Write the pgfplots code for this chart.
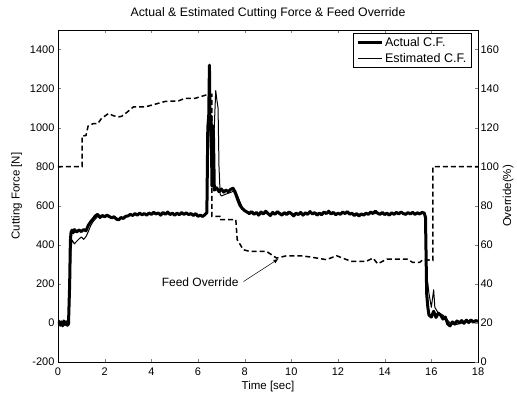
\documentclass[border=0pt]{standalone}
\usepackage{pgfplots}
\pgfplotsset{compat=1.18}
\usetikzlibrary{arrows.meta}
\usepackage{fontspec}
\setmainfont{Liberation Sans}
\begin{document}
\begin{tikzpicture}
\path[use as bounding box] (-58pt,-39pt) rectangle (459pt,362pt);
\begin{axis}[
  scale only axis, width=420pt, height=332pt,
  at={(0,0)}, anchor=south west,
  xmin=0, xmax=18, ymin=-200, ymax=1500,
  xtick={0,2,...,18}, ytick={-200,0,...,1400},
  tick align=inside, xtick pos=both, ytick pos=left,
  major tick length=3pt,
  /pgf/number format/assume math mode=true,
  /pgf/number format/1000 sep={},
  tick label style={font=\fontsize{11}{13}\selectfont},
  xticklabel style={yshift=-2.5pt},
  label style={font=\fontsize{11.5}{13}\selectfont},
  xlabel={Time [sec]}, ylabel={Cutting Force [N]},
  xlabel style={yshift=1.5pt}, ylabel style={yshift=1pt},
  title={Actual \& Estimated Cutting Force \& Feed Override},
  title style={font=\fontsize{12.3}{14}\selectfont, yshift=1pt},
  legend style={at={(0.985,0.99)}, anchor=north east, draw=black, line width=0.8pt,
    font=\fontsize{12.5}{14}\selectfont, inner xsep=3pt, inner ysep=2pt, row sep=1pt,
    /tikz/every even column/.append style={column sep=2pt}},
  legend cell align=left,
  legend image code/.code={\draw[#1] (0pt,0pt) -- (24pt,0pt);},
  axis line style={line width=0.6pt},
]
\addplot[black, line width=3pt, line join=round] coordinates {
(0.0,-10)(0.05,8)(0.1,-12)(0.15,5)(0.2,-15)(0.25,10)(0.3,-8)(0.35,6)(0.4,-12)(0.45,-5)
(0.5,200)(0.53,420)(0.56,465)(0.6,475)(0.65,462)(0.7,478)(0.8,466)(0.9,476)(1.0,468)(1.1,478)(1.2,472)
(1.3,500)(1.4,518)(1.5,532)(1.6,548)(1.7,556)(1.8,540)(1.9,550)(2.0,544)(2.1,552)(2.2,545)(2.3,538)(2.4,544)(2.5,532)(2.6,528)(2.7,540)(2.8,535)(2.9,546)
(3.0,548)(3.1,556)(3.2,550)(3.3,560)(3.4,552)(3.5,562)(3.6,554)(3.7,560)(3.8,552)(3.9,563)(4.0,556)(4.1,566)(4.2,558)(4.3,563)(4.4,552)(4.5,566)(4.6,556)(4.7,568)(4.8,555)(4.9,562)
(5.0,552)(5.1,562)(5.2,554)(5.3,565)(5.4,556)(5.5,563)(5.6,555)(5.7,560)(5.8,550)(5.9,560)(6.0,546)(6.1,552)(6.2,545)(6.3,555)(6.38,565)
(6.42,1000)(6.46,1060)(6.49,1320)(6.52,1000)(6.56,1060)(6.6,700)(6.63,1010)(6.66,980)(6.7,680)
(6.8,692)(6.9,672)(7.0,686)(7.1,670)(7.2,680)(7.3,672)(7.4,684)(7.5,690)(7.6,665)(7.7,632)(7.8,602)(7.9,586)
(8.0,575)(8.1,568)(8.2,560)(8.3,570)(8.4,556)(8.5,566)(8.6,552)(8.7,568)(8.8,558)(8.9,572)
(9.0,560)(9.1,550)(9.2,566)(9.3,556)(9.4,570)(9.5,560)(9.6,552)(9.7,565)(9.8,555)(9.9,568)
(10.0,560)(10.1,548)(10.2,562)(10.3,555)(10.4,566)(10.5,552)(10.6,564)(10.7,556)(10.8,570)(10.9,558)
(11.0,565)(11.1,552)(11.2,562)(11.3,554)(11.4,568)(11.5,560)(11.6,572)(11.7,558)(11.8,566)(11.9,554)
(12.0,562)(12.1,556)(12.2,568)(12.3,560)(12.4,570)(12.5,557)(12.6,562)(12.7,550)(12.8,560)(12.9,548)
(13.0,558)(13.1,552)(13.2,562)(13.3,556)(13.4,568)(13.5,560)(13.6,572)(13.7,562)(13.8,556)(13.9,566)
(14.0,555)(14.1,562)(14.2,552)(14.3,564)(14.4,556)(14.5,566)(14.6,558)(14.7,568)(14.8,560)(14.9,556)
(15.0,565)(15.1,558)(15.2,566)(15.3,556)(15.4,564)(15.5,558)(15.6,566)(15.7,562)(15.75,540)
(15.8,150)(15.85,80)(15.9,40)(16.0,30)(16.1,60)(16.2,28)(16.3,50)(16.4,40)(16.5,20)(16.6,30)(16.7,-5)(16.8,-15)(16.9,5)
(17.0,-5)(17.1,10)(17.2,0)(17.3,12)(17.4,-2)(17.5,14)(17.6,2)(17.7,15)(17.8,4)(17.9,12)(18.0,8)
};
\addlegendentry{Actual C.F.}
\addplot[black, line width=1pt, line join=round] coordinates {
(0.0,0)(0.1,5)(0.2,-5)(0.3,5)(0.45,0)(0.5,120)(0.55,360)(0.6,425)(0.7,405)(0.8,418)(0.9,430)(1.0,440)(1.1,428)(1.2,442)
(1.3,468)(1.4,498)(1.5,518)(1.6,532)(1.7,545)(1.8,538)(2.0,548)(2.2,542)(2.4,540)(2.6,534)(2.8,538)(3.0,550)(3.2,552)(3.4,556)(3.6,556)(3.8,558)
(4.0,558)(4.2,560)(4.4,556)(4.6,562)(4.8,558)(5.0,556)(5.2,558)(5.4,560)(5.6,558)(5.8,556)(6.0,550)(6.2,548)(6.38,560)
(6.45,900)(6.5,1030)(6.55,1000)(6.6,1020)(6.68,950)(6.76,1190)(6.8,1150)(6.86,1100)(6.9,800)(6.95,660)
(7.0,650)(7.2,660)(7.4,668)(7.6,680)(7.7,650)(7.8,620)(7.9,592)(8.0,572)
(8.5,562)(9.0,560)(9.5,562)(10.0,558)(10.5,560)(11.0,562)(11.5,562)(12.0,560)(12.5,562)(13.0,556)(13.5,562)(14.0,558)(14.5,560)(15.0,562)(15.5,560)(15.72,560)
(15.8,250)(15.9,150)(16.0,80)(16.1,170)(16.15,80)(16.3,50)(16.5,40)(16.8,0)(17.0,-10)(17.5,5)(18.0,10)
};
\addlegendentry{Estimated C.F.}
\draw[-{Latex[length=5pt,width=4pt]}, line width=0.5pt] (axis cs:7.95,212) -- (axis cs:9.45,328);
\node[font=\fontsize{12}{14}\selectfont] at (axis cs:6.09,206) {Feed Override};
\end{axis}
\begin{axis}[
  scale only axis, width=420pt, height=332pt,
  at={(0,0)}, anchor=south west,
  xmin=0, xmax=18, ymin=0, ymax=170,
  axis x line=none, axis y line*=right,
  ytick={0,20,...,160},
  tick align=inside, major tick length=3pt,
  /pgf/number format/assume math mode=true,
  tick label style={font=\fontsize{11}{13}\selectfont},
  yticklabel style={xshift=-1pt},
  label style={font=\fontsize{11.5}{13}\selectfont},
  ylabel={Override(\%)},
  ylabel style={yshift=3pt},
  axis line style={line width=0.6pt},
]
\addplot[black, line width=1.5pt, dash pattern=on 5pt off 3pt] coordinates {
(0,100)(1.03,100)(1.03,115.7)(1.2,116)(1.29,120.8)(1.5,122)(1.7,122)(1.87,124.8)(2.16,127.2)(2.4,126)(2.59,125.5)(2.73,125.8)(2.94,127.7)
(3.23,130.6)(3.73,130.6)(4.16,132)(4.59,133.4)(5.16,133.7)(5.44,135)(5.87,135)(6.37,136.8)(6.59,137)(6.59,74.6)(6.94,74.6)(6.94,72.9)(7.62,72.9)
(7.68,62.7)(7.94,57.5)(8.23,56.6)(8.94,56.6)(9.37,53.2)(9.8,54.4)(10.37,54.4)(10.8,53.8)(11.5,52.4)(11.94,54.4)(12.37,52.4)(12.6,51.5)(13.2,51.5)
(13.5,53.2)(13.7,50.3)(14.1,52.7)(14.96,52.7)(15.2,51)(15.5,51)(15.65,52.5)(16.07,52)(16.07,100)(18,100)
};
\end{axis}
\end{tikzpicture}
\end{document}
